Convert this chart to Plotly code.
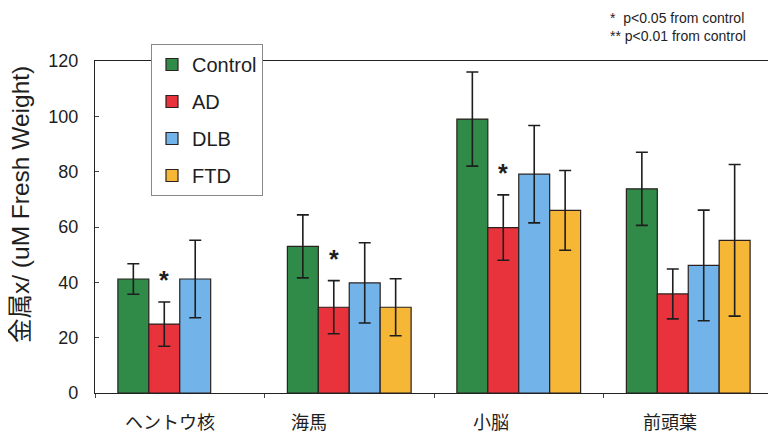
import plotly.graph_objects as go

categories = ["ヘントウ核", "海馬", "小脳", "前頭葉"]
series = ["Control", "AD", "DLB", "FTD"]
control = [41.2, 53.0, 99.0, 73.8]
control_err = [5.5, 11.4, 17.0, 13.2]
ad = [24.9, 31.0, 59.8, 35.8]
ad_err = [8.0, 9.6, 11.8, 9.0]
dlb = [41.2, 39.8, 79.1, 46.1]
dlb_err = [14.0, 14.5, 17.6, 20.0]
ftd = [None, 31.0, 66.0, 55.2]
ftd_err = [None, 10.3, 14.4, 27.4]
significant_ad = [True, True, True, False]
colors = ["#2f8b47", "#e8333d", "#72b4e9", "#f6b636"]
tick_vals = [0, 20, 40, 60, 80, 100, 120]
y_title = "金属x/ (uM Fresh Weight)"
notes = ["*&nbsp;&nbsp;p&lt;0.05 from control", "** p&lt;0.01 from control"]

values = [control, ad, dlb, ftd]
errors = [control_err, ad_err, dlb_err, ftd_err]

# page body has an 8px margin: figure coords = screen coords - 8
W, H = 768, 426
ml, mr, mt, mb = 87, 3, 53, 41
bargap = 0.27
plot_w = W - ml - mr
plot_h = H - mt - mb
label_shift = [-10, -40, -28, -18]   # category label horizontal offsets (px)

fig = go.Figure()
for i, name in enumerate(series):
    fig.add_trace(go.Bar(
        x=categories, y=values[i], name=name,
        marker=dict(color=colors[i], line=dict(color="#2a2020", width=1.2)),
        error_y=dict(type="data", array=errors[i], visible=True,
                     color="#1e1e1e", thickness=1.6, width=6),
        legendgroup=name,
    ))

# asterisks above AD bars
cat_px = plot_w / len(categories)
bar_w = (1 - bargap) / len(series)
ad_offset = (-(1 - bargap) / 2 + 1.5 * bar_w) * cat_px
for c, v, e, s in zip(categories, ad, ad_err, significant_ad):
    if s:
        fig.add_annotation(x=c, y=v + e, xref="x", yref="y", text="<b>*</b>",
                           showarrow=False, xshift=ad_offset, yshift=22,
                           font=dict(size=25, color="#1e1e1e",
                                     family="Liberation Sans"))

# category labels
for c, dx in zip(categories, label_shift):
    fig.add_annotation(x=c, y=0, xref="x", yref="y", text=c, showarrow=False,
                       xshift=dx, yshift=-28, yanchor="middle",
                       font=dict(size=18, color="#1e1e1e", family="Noto Sans CJK JP"))

# y-axis title
fig.add_annotation(x=(13 - ml) / plot_w, y=(385 - 197) / plot_h,
                   xref="paper", yref="paper", text=y_title, textangle=-90,
                   showarrow=False, xanchor="center", yanchor="middle",
                   font=dict(size=24.5, color="#1e1e1e",
                             family="Liberation Sans, Noto Sans CJK JP"))

fig.add_annotation(x=(601 - ml) / plot_w, y=(mt - 19) / plot_h + 1,
                   xref="paper", yref="paper", xanchor="left", yanchor="middle",
                   align="left", text="<br>".join(notes), showarrow=False,
                   borderpad=0,
                   font=dict(size=14, color="#1e1e1e", family="Liberation Sans"))

fig.update_layout(
    width=W, height=H,
    margin=dict(l=ml, r=mr, t=mt, b=mb),
    paper_bgcolor="white", plot_bgcolor="white",
    barmode="group", bargap=bargap, bargroupgap=0,
    font=dict(family="Liberation Sans, Noto Sans CJK JP", color="#1e1e1e"),
    showlegend=True,
    legend=dict(x=(143 - ml) / plot_w, y=(385 - 36) / plot_h,
                xanchor="left", yanchor="top",
                bgcolor="white", bordercolor="#888888", borderwidth=1,
                font=dict(size=20, family="Liberation Sans"),
                tracegroupgap=8, itemwidth=30),
    xaxis=dict(type="category", range=[-0.5, 3.5],
               showline=True, linecolor="#222", linewidth=1.2, mirror=True,
               ticks="outside", tickson="boundaries", ticklen=4, tickcolor="#444",
               showticklabels=False, showgrid=False),
    yaxis=dict(range=[0, 120], tickvals=tick_vals,
               showline=True, linecolor="#222", linewidth=1.2, mirror=True,
               ticks="inside", ticklen=4, tickcolor="#444", ticklabelstandoff=12,
               tickfont=dict(size=18), showgrid=False, zeroline=False),
)

fig.write_html("out.html")
